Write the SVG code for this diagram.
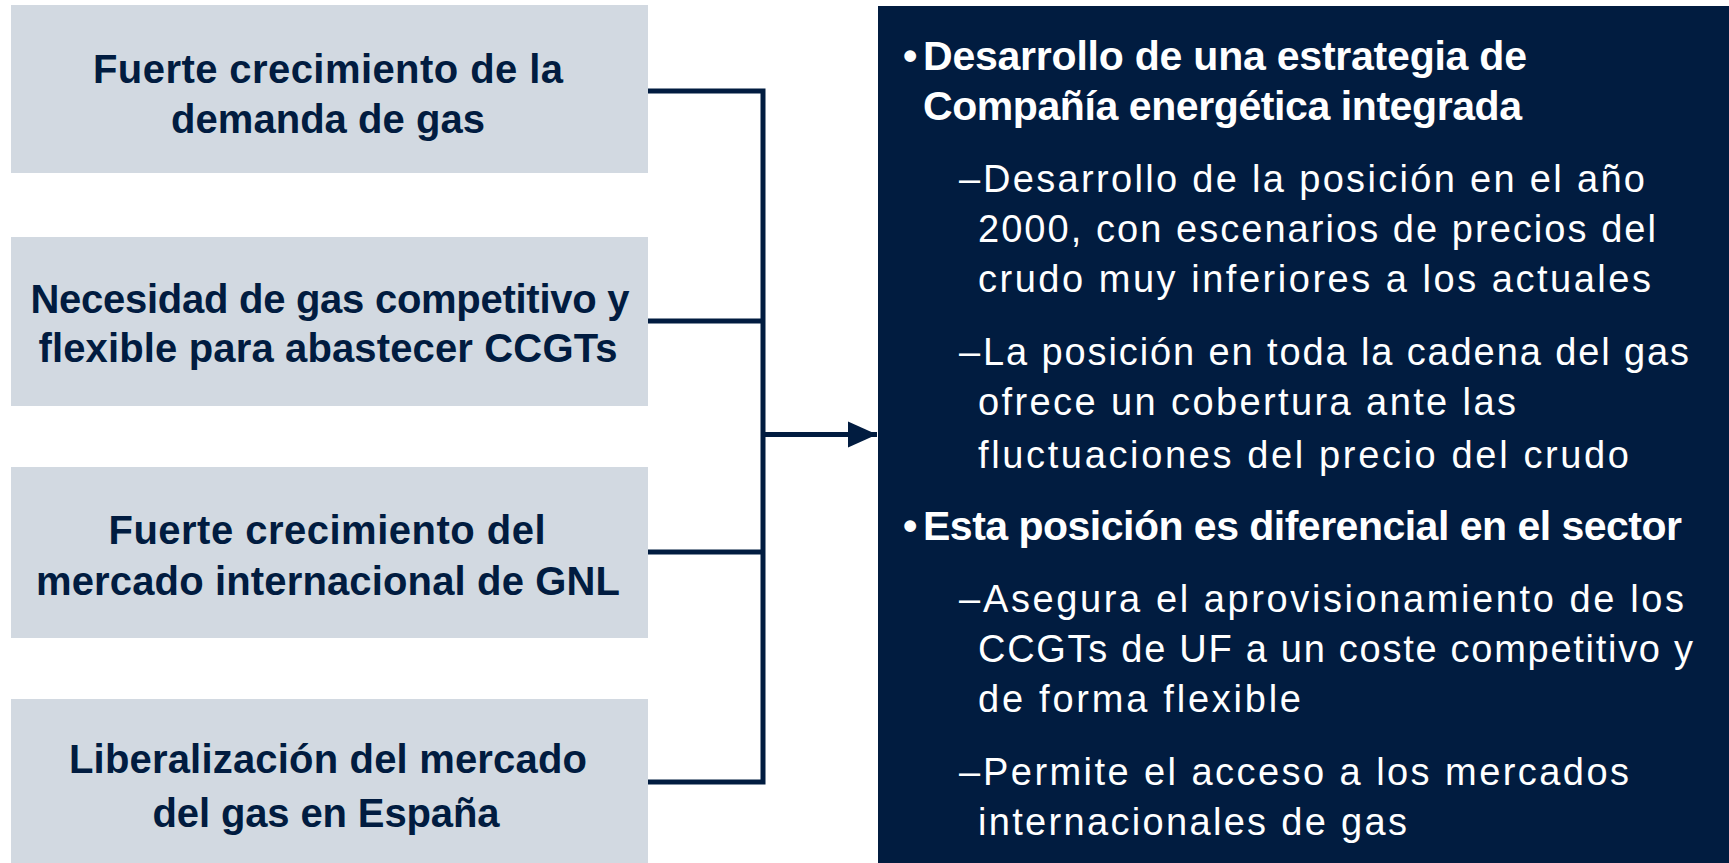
<svg xmlns="http://www.w3.org/2000/svg" width="1729" height="863" viewBox="0 0 1729 863">
<defs>
<style>
.box{fill:#D2D9E1;}
.lt{font-family:"Liberation Sans",Arial,sans-serif;font-weight:bold;font-size:40px;fill:#011C40;text-anchor:middle;}
.b{font-family:"Liberation Sans",Arial,sans-serif;font-weight:bold;font-size:41px;fill:#FFFFFF;}
.s{font-family:"Liberation Sans",Arial,sans-serif;font-size:38px;fill:#FFFFFF;}
.ln{stroke:#011C40;stroke-width:5;fill:none;}
</style>
<marker id="arr" markerUnits="userSpaceOnUse" markerWidth="30" markerHeight="30" viewBox="0 0 30 30" refX="29" refY="15" orient="auto">
<polygon points="0,2 29,15 0,28" fill="#011C40"/>
</marker>
</defs>
<rect width="1729" height="863" fill="#FFFFFF"/>
<g id="node1">
<rect class="box" x="11" y="5" width="637" height="168"/>
<text class="lt" x="328" y="83" textLength="470" lengthAdjust="spacing">Fuerte crecimiento de la</text>
<text class="lt" x="328" y="133" textLength="314" lengthAdjust="spacing">demanda de gas</text>
</g>
<g id="node2">
<rect class="box" x="11" y="237" width="637" height="169"/>
<text class="lt" x="330" y="313" textLength="599" lengthAdjust="spacing">Necesidad de gas competitivo y</text>
<text class="lt" x="328" y="362" textLength="579" lengthAdjust="spacing">flexible para abastecer CCGTs</text>
</g>
<g id="node3">
<rect class="box" x="11" y="467" width="637" height="171"/>
<text class="lt" x="327" y="544" textLength="437" lengthAdjust="spacing">Fuerte crecimiento del</text>
<text class="lt" x="328" y="595" textLength="584" lengthAdjust="spacing">mercado internacional de GNL</text>
</g>
<g id="node4">
<rect class="box" x="11" y="699" width="637" height="164"/>
<text class="lt" x="328" y="773" textLength="518" lengthAdjust="spacing">Liberalización del mercado</text>
<text class="lt" x="326" y="827" textLength="347" lengthAdjust="spacing">del gas en España</text>
</g>
<g id="connectors">
<path class="ln" d="M648,91 H763 V782 H648 M648,321 H763 M648,552 H763"/>
<path class="ln" d="M763,434.5 H877" marker-end="url(#arr)"/>
</g>
<g id="summary">
<rect x="878" y="6" width="851" height="857" fill="#011C40"/>
<text class="b" x="903" y="70">•</text>
<text class="b" x="923" y="70" textLength="604" lengthAdjust="spacing">Desarrollo de una estrategia de</text>
<text class="b" x="923" y="120" textLength="599" lengthAdjust="spacing">Compañía energética integrada</text>
<text class="s" x="959" y="192">–</text>
<text class="s" x="983" y="192" textLength="662" lengthAdjust="spacing">Desarrollo de la posición en el año</text>
<text class="s" x="978" y="242" textLength="678" lengthAdjust="spacing">2000, con escenarios de precios del</text>
<text class="s" x="978" y="292" textLength="673" lengthAdjust="spacing">crudo muy inferiores a los actuales</text>
<text class="s" x="959" y="365">–</text>
<text class="s" x="983" y="365" textLength="706" lengthAdjust="spacing">La posición en toda la cadena del gas</text>
<text class="s" x="978" y="415" textLength="538" lengthAdjust="spacing">ofrece un cobertura ante las</text>
<text class="s" x="978" y="468" textLength="651" lengthAdjust="spacing">fluctuaciones del precio del crudo</text>
<text class="b" x="903" y="540">•</text>
<text class="b" x="923" y="540" textLength="759" lengthAdjust="spacing">Esta posición es diferencial en el sector</text>
<text class="s" x="959" y="612">–</text>
<text class="s" x="983" y="612" textLength="701" lengthAdjust="spacing">Asegura el aprovisionamiento de los</text>
<text class="s" x="978" y="662" textLength="715" lengthAdjust="spacing">CCGTs de UF a un coste competitivo y</text>
<text class="s" x="978" y="712" textLength="323" lengthAdjust="spacing">de forma flexible</text>
<text class="s" x="959" y="785">–</text>
<text class="s" x="983" y="785" textLength="646" lengthAdjust="spacing">Permite el acceso a los mercados</text>
<text class="s" x="978" y="835" textLength="429" lengthAdjust="spacing">internacionales de gas</text>
</g>
</svg>
